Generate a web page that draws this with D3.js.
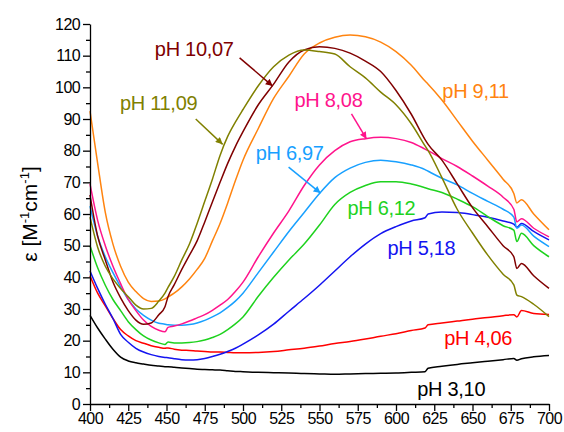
<!DOCTYPE html>
<html>
<head>
<meta charset="utf-8">
<script src="https://cdn.jsdelivr.net/npm/d3@7/dist/d3.min.js"></script>
<style>
  html, body { margin: 0; padding: 0; background: #fff; }
  svg { display: block; font-family: "Liberation Sans", Arial, sans-serif; }
</style>
</head>
<body>
<svg id="chart" width="564" height="432"></svg>
<script>
// Wavelength grid (nm) shared by every spectrum
const wavelengths = [400,405,410,415,420,425,430,435,440,445,449,451,455,460,465,470,475,480,485,490,495,500,510,520,530,540,550,560,570,580,590,600,610,619,621,630,640,650,660,670,677,679,682,690,700];

// Molar absorptivity ε (M^-1 cm^-1) at each pH
const eps_pH310 = [28,24,20.5,17.3,14.8,13.6,13,12.6,12.2,12, 11.8,11.8, 11.6,11.4,11.2,11,10.9,10.8,10.7,10.5,10.3,10.2, 10.0,9.9,9.8,9.6,9.5,9.4,9.5,9.6,9.7,9.8,10.0, 10.2,11.3, 11.9,12.5,13.0,13.5,14.0, 14.4,13.8,14.3, 14.9,15.3];
const eps_pH406 = [40.5,35,31,27,23.5,21.5,20,19.2,18.4,17.9, 17.6,17.7, 17.3,17.0,16.9,16.7,16.6,16.4,16.4,16.3,16.2,16.2, 16.3,16.6,17.1,17.6,18.3,19.1,19.7,20.5,21.4,22.2,23.2, 24.0,25.0, 25.6,26.2,26.8,27.3,27.9, 28.2,27.5,29.5, 28.6,28.3];
const eps_pH518 = [42,36.5,31.5,27,22,19.5,17.6,16.4,15.6,15.0, 14.7,14.6, 14.3,14.0,13.9,14.0,14.4,15.0,15.7,16.6,17.6,18.9, 21.8,25.2,29.3,33.3,37.5,42,46.5,50.5,53.8,56,57.8, 58.8,60.0, 60.6,60.5,59.8,59,57.8, 56.8,55.8,57, 54.5,51.8];
const eps_pH612 = [50,43,37.5,33,29.5,26,23.5,21.5,20.2,19.3, 18.8,19.6, 19.3,19.3,19.4,19.7,20.2,21,22,23.5,25.3,27.5, 34,40,45.5,50.5,56.5,63,66.8,69,70.2,70.2,69.5, 68.3,68.0, 66.8,64.7,62.3,59.2,56.3, 54.9,51.3,53.9, 50,46.5];
const eps_pH697 = [62.5,53,46.5,41.5,37,33,30,28,26.5,25.5, 25.2,25.0, 24.9,24.9,25.1,25.6,26.4,27.5,28.8,30.5,32.5,35, 41.5,48,54.5,60.5,66.5,71.5,74.5,76.3,77.0,76.5,75.5, 74,73.5, 71.3,69.2,66.5,64,61.5, 59,55.5,56.5, 53,49.7];
const eps_pH808 = [69.5,58,50,43.5,38,33,29.5,26.5,24.5,23.3, 22.8,24.2, 24.6,25.3,26.2,27.2,28.2,29.6,31.2,33,35.5,38.5, 46.5,54,61,69,75.5,80,82.8,83.8,84.2,83.8,82.6, 80.5,80, 77.5,75,72,68.8,65.3, 61.5,57.5,58.5, 55.5,52.8];
const eps_pH911 = [92.5,76,60.5,50.5,43.5,38.5,35.5,33.3,32.4,32.5, 33.2,33.8, 35,37,39.5,42.5,46,51.5,57,63.5,70.5,77, 87,96.5,103.5,110.5,114,115.8,116.5,116,114.3,111.3,107, 102,101, 96,89.5,83,77,71, 66.5,63.5,64.5, 60,55];
const eps_pH1007 = [66,53,45.5,38.5,33.5,29.5,26.5,25.2,25.6,28.2, 30.7,33.9, 37.6,42.5,47,51.5,57.5,63.8,70,76,81.3,86, 94.5,101,108,111.8,112.8,112.3,110.8,108.3,105,99,91.5, 83.5,82, 77,69.5,62,56,50, 46.5,42.8,44.4, 40.5,36.5];
const eps_pH1109 = [59,49.5,43.5,39.5,36.5,33.9,31.2,30,30.2,32.5, 35,36.8, 40.2,45.5,50.5,57,64,71,78.5,84.5,89,93, 100.5,106.5,110.2,111.8,111.3,110.5,106.5,103,98.5,94.5,88.5, 81.5,80, 71.5,61.5,54,47,41, 37.6,34.4,33.9, 31.5,27.6];

// Series names, colours and curve lookup
const seriesNames  = ["pH 3,10","pH 4,06","pH 5,18","pH 6,12","pH 6,97","pH 8,08","pH 9,11","pH 10,07","pH 11,09"];
const seriesColors = ["#000000","#ff0000","#1414f0","#1ed21e","#18a0ff","#ff148c","#ff8410","#800000","#808000"];
const seriesValues = [eps_pH310, eps_pH406, eps_pH518, eps_pH612, eps_pH697, eps_pH808, eps_pH911, eps_pH1007, eps_pH1109];

// Curve labels: anchor (nm, ε) of text baseline start, optional arrow from/to (nm, ε)
const labelAnchors = [
  { x: 613.9, y: 2.5 },
  { x: 631.5, y: 18.6 },
  { x: 594.4, y: 47.2 },
  { x: 568.3, y: 59.6 },
  { x: 508.3, y: 77.0 },
  { x: 533.7, y: 93.8 },
  { x: 630.3, y: 96.6 },
  { x: 442.4, y: 109.9 },
  { x: 419.6, y: 92.8 }
];
const labelArrows = [
  null, null, null, null,
  { from: [529.8, 74.8], to: [550.7, 66.6] },
  { from: [570.9, 91.6], to: [580.7, 83.7] },
  null,
  { from: [497.8, 109.3], to: [519.4, 100.4] },
  { from: [469.1, 90.0], to: [486.7, 82.0] }
];

const xTicks = d3.range(400, 701, 25);
const xMinor = d3.range(412.5, 700, 25);
const yTicks = d3.range(0, 121, 10);
const yMinor = d3.range(5, 120, 10);

const svg = d3.select("#chart");
const margin = { left: 90, right: 15, top: 24, bottom: 28 };
const W = 564, H = 432;

const x = d3.scaleLinear().domain([400, 700]).range([margin.left, W - margin.right]);
const y = d3.scaleLinear().domain([0, 120]).range([H - margin.bottom, margin.top]);

// Spectra
const line = d3.line()
  .x((d, i) => x(wavelengths[i]))
  .y(d => y(d))
  .curve(d3.curveMonotoneX);

svg.append("g").attr("class", "spectra")
  .selectAll("path")
  .data(seriesValues)
  .join("path")
  .attr("d", d => line(d))
  .attr("fill", "none")
  .attr("stroke", (d, i) => seriesColors[i])
  .attr("stroke-width", 1.5)
  .attr("stroke-linejoin", "round");

// Axes: major ticks with labels, minor ticks without
svg.append("g")
  .attr("transform", `translate(0,${y(0)})`)
  .call(d3.axisBottom(x).tickValues(xTicks).tickSize(7).tickSizeOuter(0).tickPadding(2).tickFormat(d3.format("d")));
svg.append("g")
  .attr("transform", `translate(0,${y(0)})`)
  .call(d3.axisBottom(x).tickValues(xMinor).tickSize(4).tickSizeOuter(0).tickFormat(""))
  .call(g => g.select(".domain").remove());

svg.append("g")
  .attr("transform", `translate(${x(400)},0)`)
  .call(d3.axisLeft(y).tickValues(yTicks).tickSize(7).tickSizeOuter(0).tickPadding(3).tickFormat(d3.format("d")));
svg.append("g")
  .attr("transform", `translate(${x(400)},0)`)
  .call(d3.axisLeft(y).tickValues(yMinor).tickSize(4).tickSizeOuter(0).tickFormat(""))
  .call(g => g.select(".domain").remove());

svg.selectAll(".domain, .tick line").attr("stroke", "#000").attr("stroke-width", 1.3);
svg.selectAll(".tick text")
  .attr("fill", "#000")
  .attr("font-size", 16)
  .attr("font-family", "'Liberation Sans', Arial, sans-serif")
  .attr("letter-spacing", -0.6);

// Y-axis title
const yTitle = svg.append("text")
  .attr("transform", `translate(37,${(y(0) + y(120)) / 2}) rotate(-90)`)
  .attr("text-anchor", "middle")
  .attr("font-size", 21)
  .attr("fill", "#000");
yTitle.append("tspan").text("ε [M");
yTitle.append("tspan").attr("font-size", 13).attr("dy", -8).text("-1");
yTitle.append("tspan").attr("dy", 8).text("cm");
yTitle.append("tspan").attr("font-size", 13).attr("dy", -8).text("-1");
yTitle.append("tspan").attr("dy", 8).text("]");

// Arrowheads, one per colour
const defs = svg.append("defs");
seriesColors.forEach((c, i) => {
  defs.append("marker")
    .attr("id", "arrow" + i)
    .attr("viewBox", "0 0 10 10")
    .attr("refX", 10).attr("refY", 5)
    .attr("markerWidth", 9).attr("markerHeight", 7)
    .attr("markerUnits", "userSpaceOnUse")
    .attr("orient", "auto")
    .append("path")
    .attr("d", "M0,0 L10,5 L0,10 Z")
    .attr("fill", c);
});

// Curve labels
svg.append("g").attr("class", "labels")
  .selectAll("text")
  .data(seriesNames)
  .join("text")
  .attr("x", (d, i) => x(labelAnchors[i].x))
  .attr("y", (d, i) => y(labelAnchors[i].y))
  .attr("fill", (d, i) => seriesColors[i])
  .attr("font-size", 20)
  .attr("letter-spacing", -0.3)
  .text(d => d);

svg.append("g").attr("class", "arrows")
  .selectAll("line")
  .data(labelArrows.map((a, i) => ({ a, i })).filter(d => d.a))
  .join("line")
  .attr("x1", d => x(d.a.from[0])).attr("y1", d => y(d.a.from[1]))
  .attr("x2", d => x(d.a.to[0])).attr("y2", d => y(d.a.to[1]))
  .attr("stroke", d => seriesColors[d.i])
  .attr("stroke-width", 1.5)
  .attr("marker-end", d => `url(#arrow${d.i})`);
</script>
</body>
</html>
